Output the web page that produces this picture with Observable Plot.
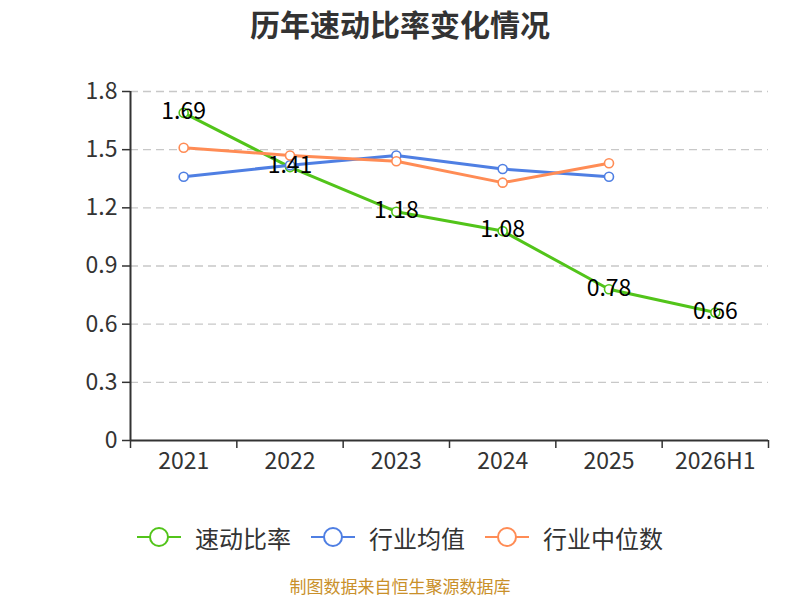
<!DOCTYPE html>
<html><head><meta charset="utf-8">
<script src="https://cdn.jsdelivr.net/npm/d3@7"></script>
<script src="https://cdn.jsdelivr.net/npm/@observablehq/plot@0.6"></script>
<style>
body{margin:0;width:800px;height:600px;background:#fff;font-family:"Noto Sans CJK SC",sans-serif;position:relative;overflow:hidden;}
#title{position:absolute;top:0;left:0;width:800px;height:50px;line-height:46px;text-align:center;font-size:30px;font-weight:bold;color:#333;}
#chart{position:absolute;top:50px;left:0;}
#legend{position:absolute;top:520px;left:0;width:800px;height:34px;display:flex;justify-content:center;align-items:center;font-size:24px;color:#333;}
.item{display:flex;align-items:center;margin:0 10px;}
.item svg{margin-right:14px;}
#caption{position:absolute;top:573px;left:0;width:800px;text-align:center;font-size:17px;line-height:25px;color:#c9902a;}
</style></head><body>
<div id="title">历年速动比率变化情况</div>
<div id="chart"></div>
<div id="legend"></div>
<div id="caption">制图数据来自恒生聚源数据库</div>
<script>
const categories = ["2021","2022","2023","2024","2025","2026H1"];
const quickRatio = [1.69,1.41,1.18,1.08,0.78,0.66];
const industryMean = [1.36,1.42,1.47,1.40,1.36];
const industryMedian = [1.51,1.47,1.44,1.33,1.43];
const yTicks = [0,0.3,0.6,0.9,1.2,1.5,1.8];
const seriesNames = ["速动比率","行业均值","行业中位数"];
const colors = ["#52c41a","#4f7fe3","#ff8c55"];

const seriesValues = [quickRatio, industryMean, industryMedian];
const data = [];
seriesValues.forEach((vals, k) => vals.forEach((v, i) => data.push({i, cat: categories[i], v, s: seriesNames[k]})));
const green = data.filter(d => d.s === seriesNames[0]);
const boundaries = categories.map((_, i) => i - 0.5).concat([categories.length - 0.5]);
const centers = categories.map((_, i) => i);
const font = "Noto Sans CJK SC";

const chart = Plot.plot({
  width: 800, height: 450,
  marginTop: 41, marginBottom: 60, marginLeft: 130, marginRight: 32,
  style: {fontFamily: font, background: "white"},
  x: {type: "linear", domain: [-0.5, categories.length - 0.5], axis: null},
  y: {domain: [0, 1.8], axis: null},
  color: {domain: seriesNames, range: colors},
  marks: [
    Plot.ruleY(yTicks.filter(d => d > 0), {stroke: "#c8c8c8", strokeWidth: 1.3, strokeDasharray: "8,5"}),
    Plot.axisY({ticks: yTicks, label: null, tickFormat: d => d === 0 ? "0" : d.toFixed(1), tickSize: 8, tickPadding: 5, fontSize: 23, color: "#333", stroke: "#333", strokeWidth: 1.5}),
    Plot.ruleX([-0.5], {y1: 0, y2: 1.8, stroke: "#333", strokeWidth: 2}),
    Plot.ruleY([0], {stroke: "#333", strokeWidth: 2}),
    Plot.axisX({ticks: boundaries, label: null, tickFormat: () => "", tickSize: 8, stroke: "#333", strokeWidth: 1.5}),
    Plot.axisX({ticks: centers, label: null, tickFormat: i => categories[i], tickSize: 0, tickPadding: 12, fontSize: 23, color: "#333"}),
    Plot.line(data, {x: "i", y: "v", z: "s", stroke: "s", strokeWidth: 3}),
    Plot.dot(data, {x: "i", y: "v", r: 4.5, fill: "white", stroke: "s", strokeWidth: 1.6}),
    Plot.text(green, {x: "i", y: "v", dy: -1, text: d => d.v.toFixed(2), fontSize: 23, fill: "black"})
  ]
});
document.getElementById("chart").appendChild(chart);

const legend = document.getElementById("legend");
seriesNames.forEach((name, k) => {
  const item = document.createElement("div");
  item.className = "item";
  item.innerHTML = `<svg width="44" height="22"><line x1="0" y1="11" x2="44" y2="11" stroke="${colors[k]}" stroke-width="2"/><circle cx="22" cy="11" r="9" fill="white" stroke="${colors[k]}" stroke-width="2"/></svg><span>${name}</span>`;
  legend.appendChild(item);
});
</script>
</body></html>
